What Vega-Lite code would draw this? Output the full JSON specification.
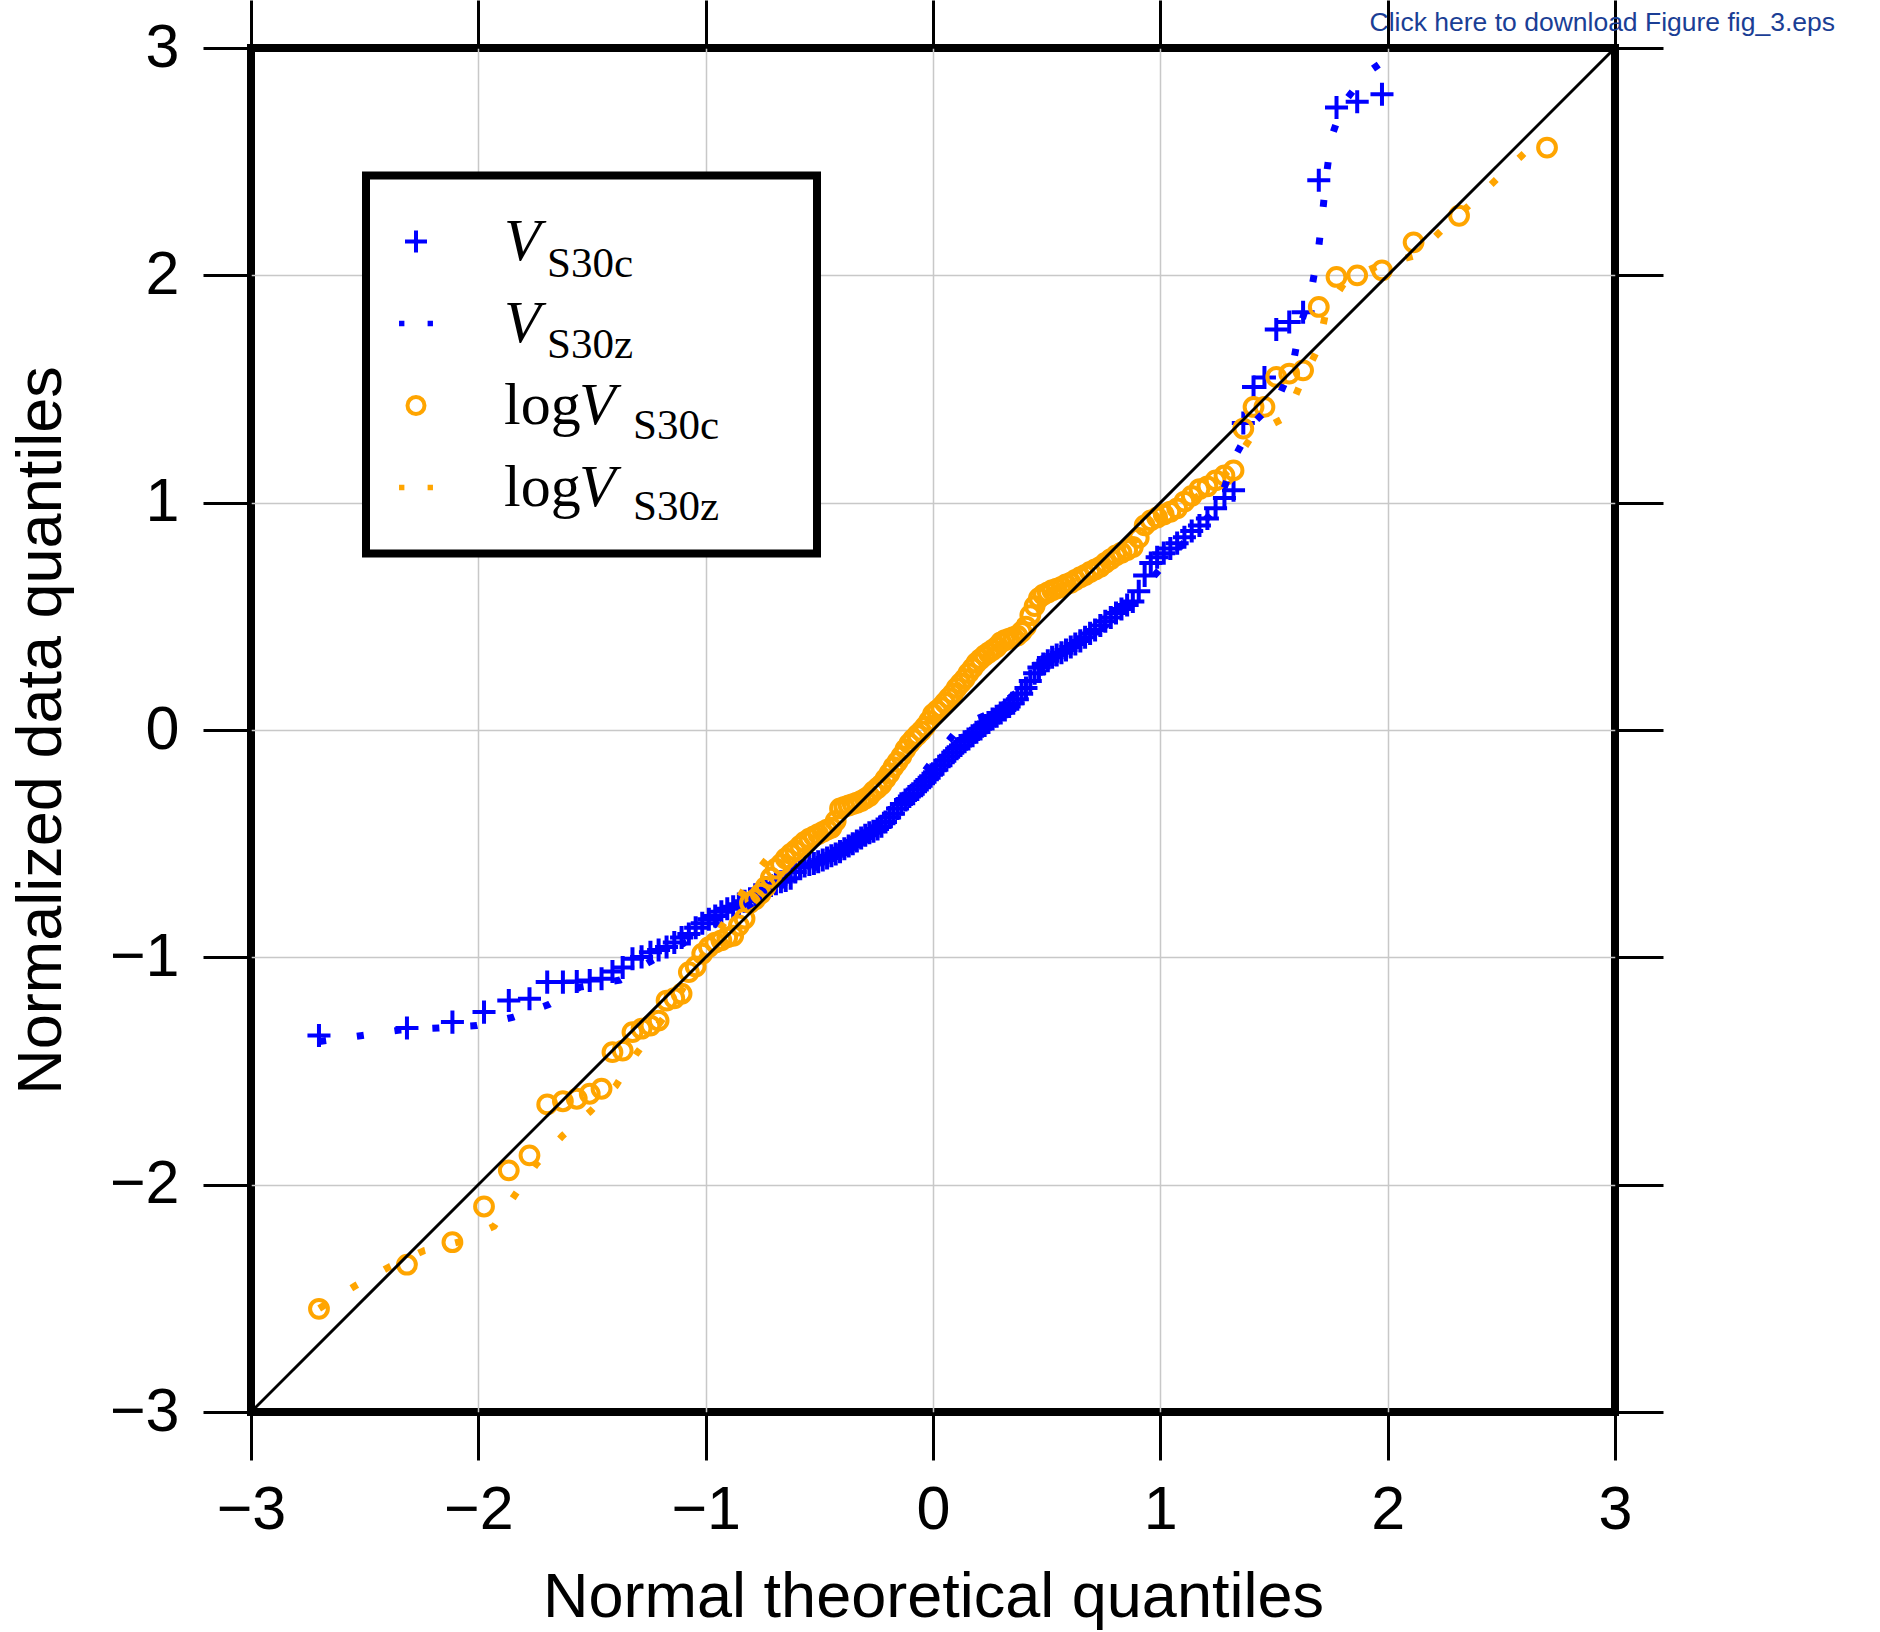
{
 "$schema": "https://vega.github.io/schema/vega-lite/v6.json",
 "width": 1364,
 "height": 1364,
 "autosize": {"type": "none"},
 "padding": {"left": 251, "top": 48, "right": 265, "bottom": 220},
 "background": "white",
 "title": {"text": "Click here to download Figure fig_3.eps", "orient": "top", "anchor": "end", "frame": "group", "font": "Liberation Sans", "fontSize": 26.5, "fontWeight": "normal", "color": "#1a3e95", "offset": 0, "dx": 220, "dy": 59, "baseline": "alphabetic"},
 "config": {
  "view": {"stroke": "black", "strokeWidth": 8},
  "legend": {"strokeWidth": 8},
  "axis": {"domain": false, "tickColor": "black", "tickWidth": 3, "tickSize": 48, "labelFont": "Liberation Sans", "labelFontSize": 61, "labelColor": "black", "titleFont": "Liberation Sans", "titleFontSize": 63, "titleFontWeight": "normal", "titleColor": "black", "gridWidth": 1.5, "gridOpacity": 1, "labelFlush": false, "labelOverlap": false, "labelBound": false}
 },
 "datasets": {
  "pts": [
   {"series":"VS30c","x":-2.701,"y":-1.344},{"series":"VS30c","x":-2.314,"y":-1.311},{"series":"VS30c","x":-2.114,"y":-1.285},{"series":"VS30c","x":-1.975,"y":-1.241},{"series":"VS30c","x":-1.866,"y":-1.19},{"series":"VS30c","x":-1.775,"y":-1.182},{"series":"VS30c","x":-1.697,"y":-1.109},{"series":"VS30c","x":-1.628,"y":-1.109},{"series":"VS30c","x":-1.567,"y":-1.106},{"series":"VS30c","x":-1.51,"y":-1.102},{"series":"VS30c","x":-1.458,"y":-1.094},{"series":"VS30c","x":-1.41,"y":-1.062},{"series":"VS30c","x":-1.365,"y":-1.045},{"series":"VS30c","x":-1.322,"y":-1.006},{"series":"VS30c","x":-1.282,"y":-0.998},{"series":"VS30c","x":-1.243,"y":-0.978},{"series":"VS30c","x":-1.207,"y":-0.968},{"series":"VS30c","x":-1.172,"y":-0.955},{"series":"VS30c","x":-1.138,"y":-0.935},{"series":"VS30c","x":-1.106,"y":-0.913},{"series":"VS30c","x":-1.074,"y":-0.897},{"series":"VS30c","x":-1.044,"y":-0.87},{"series":"VS30c","x":-1.015,"y":-0.85},{"series":"VS30c","x":-0.986,"y":-0.832},{"series":"VS30c","x":-0.958,"y":-0.818},{"series":"VS30c","x":-0.931,"y":-0.8},{"series":"VS30c","x":-0.905,"y":-0.786},{"series":"VS30c","x":-0.879,"y":-0.778},{"series":"VS30c","x":-0.854,"y":-0.766},{"series":"VS30c","x":-0.829,"y":-0.753},{"series":"VS30c","x":-0.805,"y":-0.742},{"series":"VS30c","x":-0.782,"y":-0.725},{"series":"VS30c","x":-0.758,"y":-0.708},{"series":"VS30c","x":-0.736,"y":-0.694},{"series":"VS30c","x":-0.713,"y":-0.684},{"series":"VS30c","x":-0.691,"y":-0.676},{"series":"VS30c","x":-0.669,"y":-0.668},{"series":"VS30c","x":-0.648,"y":-0.662},{"series":"VS30c","x":-0.626,"y":-0.652},{"series":"VS30c","x":-0.606,"y":-0.625},{"series":"VS30c","x":-0.585,"y":-0.605},{"series":"VS30c","x":-0.565,"y":-0.598},{"series":"VS30c","x":-0.544,"y":-0.592},{"series":"VS30c","x":-0.524,"y":-0.587},{"series":"VS30c","x":-0.505,"y":-0.58},{"series":"VS30c","x":-0.485,"y":-0.572},{"series":"VS30c","x":-0.466,"y":-0.563},{"series":"VS30c","x":-0.447,"y":-0.553},{"series":"VS30c","x":-0.428,"y":-0.545},{"series":"VS30c","x":-0.409,"y":-0.535},{"series":"VS30c","x":-0.39,"y":-0.522},{"series":"VS30c","x":-0.371,"y":-0.51},{"series":"VS30c","x":-0.353,"y":-0.5},{"series":"VS30c","x":-0.335,"y":-0.488},{"series":"VS30c","x":-0.316,"y":-0.475},{"series":"VS30c","x":-0.298,"y":-0.463},{"series":"VS30c","x":-0.28,"y":-0.452},{"series":"VS30c","x":-0.262,"y":-0.445},{"series":"VS30c","x":-0.244,"y":-0.435},{"series":"VS30c","x":-0.227,"y":-0.423},{"series":"VS30c","x":-0.209,"y":-0.405},{"series":"VS30c","x":-0.191,"y":-0.385},{"series":"VS30c","x":-0.174,"y":-0.368},{"series":"VS30c","x":-0.156,"y":-0.345},{"series":"VS30c","x":-0.139,"y":-0.325},{"series":"VS30c","x":-0.121,"y":-0.308},{"series":"VS30c","x":-0.104,"y":-0.293},{"series":"VS30c","x":-0.087,"y":-0.28},{"series":"VS30c","x":-0.069,"y":-0.262},{"series":"VS30c","x":-0.052,"y":-0.245},{"series":"VS30c","x":-0.035,"y":-0.228},{"series":"VS30c","x":-0.017,"y":-0.21},{"series":"VS30c","x":0,"y":-0.192},
   {"series":"VS30c","x":0.017,"y":-0.175},{"series":"VS30c","x":0.035,"y":-0.155},{"series":"VS30c","x":0.052,"y":-0.135},{"series":"VS30c","x":0.069,"y":-0.118},{"series":"VS30c","x":0.087,"y":-0.1},{"series":"VS30c","x":0.104,"y":-0.082},{"series":"VS30c","x":0.121,"y":-0.068},{"series":"VS30c","x":0.139,"y":-0.052},{"series":"VS30c","x":0.156,"y":-0.04},{"series":"VS30c","x":0.174,"y":-0.025},{"series":"VS30c","x":0.191,"y":-0.01},{"series":"VS30c","x":0.209,"y":0.005},{"series":"VS30c","x":0.227,"y":0.02},{"series":"VS30c","x":0.244,"y":0.033},{"series":"VS30c","x":0.262,"y":0.048},{"series":"VS30c","x":0.28,"y":0.06},{"series":"VS30c","x":0.298,"y":0.075},{"series":"VS30c","x":0.316,"y":0.088},{"series":"VS30c","x":0.335,"y":0.103},{"series":"VS30c","x":0.353,"y":0.118},{"series":"VS30c","x":0.371,"y":0.135},{"series":"VS30c","x":0.39,"y":0.16},{"series":"VS30c","x":0.409,"y":0.185},{"series":"VS30c","x":0.428,"y":0.215},{"series":"VS30c","x":0.447,"y":0.25},{"series":"VS30c","x":0.466,"y":0.275},{"series":"VS30c","x":0.485,"y":0.29},{"series":"VS30c","x":0.505,"y":0.305},{"series":"VS30c","x":0.524,"y":0.32},{"series":"VS30c","x":0.544,"y":0.33},{"series":"VS30c","x":0.565,"y":0.34},{"series":"VS30c","x":0.585,"y":0.352},{"series":"VS30c","x":0.606,"y":0.365},{"series":"VS30c","x":0.626,"y":0.378},{"series":"VS30c","x":0.648,"y":0.392},{"series":"VS30c","x":0.669,"y":0.408},{"series":"VS30c","x":0.691,"y":0.425},{"series":"VS30c","x":0.713,"y":0.44},{"series":"VS30c","x":0.736,"y":0.46},{"series":"VS30c","x":0.758,"y":0.478},{"series":"VS30c","x":0.782,"y":0.495},{"series":"VS30c","x":0.805,"y":0.515},{"series":"VS30c","x":0.829,"y":0.532},{"series":"VS30c","x":0.854,"y":0.55},{"series":"VS30c","x":0.879,"y":0.565},{"series":"VS30c","x":0.905,"y":0.61},{"series":"VS30c","x":0.931,"y":0.68},{"series":"VS30c","x":0.958,"y":0.735},{"series":"VS30c","x":0.986,"y":0.76},{"series":"VS30c","x":1.015,"y":0.778},{"series":"VS30c","x":1.044,"y":0.798},{"series":"VS30c","x":1.074,"y":0.822},{"series":"VS30c","x":1.106,"y":0.848},{"series":"VS30c","x":1.138,"y":0.875},{"series":"VS30c","x":1.172,"y":0.9},{"series":"VS30c","x":1.207,"y":0.93},{"series":"VS30c","x":1.243,"y":0.975},{"series":"VS30c","x":1.282,"y":1.02},{"series":"VS30c","x":1.322,"y":1.055},{"series":"VS30c","x":1.365,"y":1.35},{"series":"VS30c","x":1.41,"y":1.509},{"series":"VS30c","x":1.458,"y":1.551},{"series":"VS30c","x":1.51,"y":1.762},{"series":"VS30c","x":1.567,"y":1.795},{"series":"VS30c","x":1.628,"y":1.838},{"series":"VS30c","x":1.697,"y":2.418},{"series":"VS30c","x":1.775,"y":2.738},{"series":"VS30c","x":1.866,"y":2.764},{"series":"VS30c","x":1.975,"y":2.797},
   {"series":"logVS30c","x":-2.701,"y":-2.546},{"series":"logVS30c","x":-2.314,"y":-2.352},{"series":"logVS30c","x":-2.114,"y":-2.253},{"series":"logVS30c","x":-1.975,"y":-2.096},{"series":"logVS30c","x":-1.866,"y":-1.937},{"series":"logVS30c","x":-1.775,"y":-1.871},{"series":"logVS30c","x":-1.697,"y":-1.647},{"series":"logVS30c","x":-1.628,"y":-1.633},{"series":"logVS30c","x":-1.567,"y":-1.622},{"series":"logVS30c","x":-1.51,"y":-1.6},{"series":"logVS30c","x":-1.458,"y":-1.578},{"series":"logVS30c","x":-1.41,"y":-1.417},{"series":"logVS30c","x":-1.365,"y":-1.41},{"series":"logVS30c","x":-1.322,"y":-1.329},{"series":"logVS30c","x":-1.282,"y":-1.314},{"series":"logVS30c","x":-1.243,"y":-1.3},{"series":"logVS30c","x":-1.207,"y":-1.278},{"series":"logVS30c","x":-1.172,"y":-1.19},{"series":"logVS30c","x":-1.138,"y":-1.18},{"series":"logVS30c","x":-1.106,"y":-1.16},{"series":"logVS30c","x":-1.074,"y":-1.065},{"series":"logVS30c","x":-1.044,"y":-1.04},{"series":"logVS30c","x":-1.015,"y":-0.984},{"series":"logVS30c","x":-0.986,"y":-0.955},{"series":"logVS30c","x":-0.958,"y":-0.935},{"series":"logVS30c","x":-0.931,"y":-0.925},{"series":"logVS30c","x":-0.905,"y":-0.912},{"series":"logVS30c","x":-0.879,"y":-0.905},{"series":"logVS30c","x":-0.854,"y":-0.86},{"series":"logVS30c","x":-0.829,"y":-0.83},{"series":"logVS30c","x":-0.805,"y":-0.76},{"series":"logVS30c","x":-0.782,"y":-0.745},{"series":"logVS30c","x":-0.758,"y":-0.72},{"series":"logVS30c","x":-0.736,"y":-0.69},{"series":"logVS30c","x":-0.713,"y":-0.65},{"series":"logVS30c","x":-0.691,"y":-0.61},{"series":"logVS30c","x":-0.669,"y":-0.59},{"series":"logVS30c","x":-0.648,"y":-0.565},{"series":"logVS30c","x":-0.626,"y":-0.545},{"series":"logVS30c","x":-0.606,"y":-0.53},{"series":"logVS30c","x":-0.585,"y":-0.51},{"series":"logVS30c","x":-0.565,"y":-0.492},{"series":"logVS30c","x":-0.544,"y":-0.478},{"series":"logVS30c","x":-0.524,"y":-0.468},{"series":"logVS30c","x":-0.505,"y":-0.458},{"series":"logVS30c","x":-0.485,"y":-0.448},{"series":"logVS30c","x":-0.466,"y":-0.438},{"series":"logVS30c","x":-0.447,"y":-0.43},{"series":"logVS30c","x":-0.428,"y":-0.4},{"series":"logVS30c","x":-0.409,"y":-0.345},{"series":"logVS30c","x":-0.39,"y":-0.338},{"series":"logVS30c","x":-0.371,"y":-0.332},{"series":"logVS30c","x":-0.353,"y":-0.326},{"series":"logVS30c","x":-0.335,"y":-0.32},{"series":"logVS30c","x":-0.316,"y":-0.312},{"series":"logVS30c","x":-0.298,"y":-0.302},{"series":"logVS30c","x":-0.28,"y":-0.29},{"series":"logVS30c","x":-0.262,"y":-0.27},{"series":"logVS30c","x":-0.244,"y":-0.255},{"series":"logVS30c","x":-0.227,"y":-0.24},{"series":"logVS30c","x":-0.209,"y":-0.215},{"series":"logVS30c","x":-0.191,"y":-0.19},{"series":"logVS30c","x":-0.174,"y":-0.163},{"series":"logVS30c","x":-0.156,"y":-0.14},{"series":"logVS30c","x":-0.139,"y":-0.115},{"series":"logVS30c","x":-0.121,"y":-0.085},{"series":"logVS30c","x":-0.104,"y":-0.06},{"series":"logVS30c","x":-0.087,"y":-0.04},{"series":"logVS30c","x":-0.069,"y":-0.022},{"series":"logVS30c","x":-0.052,"y":-0.005},{"series":"logVS30c","x":-0.035,"y":0.015},{"series":"logVS30c","x":-0.017,"y":0.04},{"series":"logVS30c","x":0,"y":0.07},
   {"series":"logVS30c","x":0.017,"y":0.085},{"series":"logVS30c","x":0.035,"y":0.1},{"series":"logVS30c","x":0.052,"y":0.12},{"series":"logVS30c","x":0.069,"y":0.14},{"series":"logVS30c","x":0.087,"y":0.16},{"series":"logVS30c","x":0.104,"y":0.185},{"series":"logVS30c","x":0.121,"y":0.205},{"series":"logVS30c","x":0.139,"y":0.225},{"series":"logVS30c","x":0.156,"y":0.25},{"series":"logVS30c","x":0.174,"y":0.272},{"series":"logVS30c","x":0.191,"y":0.295},{"series":"logVS30c","x":0.209,"y":0.312},{"series":"logVS30c","x":0.227,"y":0.328},{"series":"logVS30c","x":0.244,"y":0.34},{"series":"logVS30c","x":0.262,"y":0.352},{"series":"logVS30c","x":0.28,"y":0.365},{"series":"logVS30c","x":0.298,"y":0.385},{"series":"logVS30c","x":0.316,"y":0.395},{"series":"logVS30c","x":0.335,"y":0.402},{"series":"logVS30c","x":0.353,"y":0.408},{"series":"logVS30c","x":0.371,"y":0.415},{"series":"logVS30c","x":0.39,"y":0.432},{"series":"logVS30c","x":0.409,"y":0.455},{"series":"logVS30c","x":0.428,"y":0.505},{"series":"logVS30c","x":0.447,"y":0.545},{"series":"logVS30c","x":0.466,"y":0.58},{"series":"logVS30c","x":0.485,"y":0.595},{"series":"logVS30c","x":0.505,"y":0.605},{"series":"logVS30c","x":0.524,"y":0.615},{"series":"logVS30c","x":0.544,"y":0.622},{"series":"logVS30c","x":0.565,"y":0.63},{"series":"logVS30c","x":0.585,"y":0.64},{"series":"logVS30c","x":0.606,"y":0.648},{"series":"logVS30c","x":0.626,"y":0.66},{"series":"logVS30c","x":0.648,"y":0.672},{"series":"logVS30c","x":0.669,"y":0.682},{"series":"logVS30c","x":0.691,"y":0.695},{"series":"logVS30c","x":0.713,"y":0.706},{"series":"logVS30c","x":0.736,"y":0.718},{"series":"logVS30c","x":0.758,"y":0.735},{"series":"logVS30c","x":0.782,"y":0.752},{"series":"logVS30c","x":0.805,"y":0.768},{"series":"logVS30c","x":0.829,"y":0.78},{"series":"logVS30c","x":0.854,"y":0.792},{"series":"logVS30c","x":0.879,"y":0.805},{"series":"logVS30c","x":0.905,"y":0.845},{"series":"logVS30c","x":0.931,"y":0.9},{"series":"logVS30c","x":0.958,"y":0.922},{"series":"logVS30c","x":0.986,"y":0.935},{"series":"logVS30c","x":1.015,"y":0.948},{"series":"logVS30c","x":1.044,"y":0.96},{"series":"logVS30c","x":1.074,"y":0.975},{"series":"logVS30c","x":1.106,"y":1.005},{"series":"logVS30c","x":1.138,"y":1.03},{"series":"logVS30c","x":1.172,"y":1.06},{"series":"logVS30c","x":1.207,"y":1.072},{"series":"logVS30c","x":1.243,"y":1.098},{"series":"logVS30c","x":1.282,"y":1.12},{"series":"logVS30c","x":1.322,"y":1.142},{"series":"logVS30c","x":1.365,"y":1.326},{"series":"logVS30c","x":1.41,"y":1.421},{"series":"logVS30c","x":1.458,"y":1.421},{"series":"logVS30c","x":1.51,"y":1.553},{"series":"logVS30c","x":1.567,"y":1.568},{"series":"logVS30c","x":1.628,"y":1.582},{"series":"logVS30c","x":1.697,"y":1.861},{"series":"logVS30c","x":1.775,"y":1.993},{"series":"logVS30c","x":1.866,"y":2.0},{"series":"logVS30c","x":1.975,"y":2.022},{"series":"logVS30c","x":2.114,"y":2.145},{"series":"logVS30c","x":2.314,"y":2.262},{"series":"logVS30c","x":2.701,"y":2.562}
  ],
  "zl": [
   {"series":"VS30z","x":-2.7,"y":-1.37},{"series":"VS30z","x":-2.51,"y":-1.344},{"series":"VS30z","x":-2.345,"y":-1.32},{"series":"VS30z","x":-2.176,"y":-1.311},{"series":"VS30z","x":-2.007,"y":-1.3},{"series":"VS30z","x":-1.846,"y":-1.263},{"series":"VS30z","x":-1.688,"y":-1.207},{"series":"VS30z","x":-1.553,"y":-1.131},{"series":"VS30z","x":-1.377,"y":-1.1},{"series":"VS30z","x":-1.248,"y":-1.021},{"series":"VS30z","x":-1.1,"y":-0.94},{"series":"VS30z","x":-0.95,"y":-0.85},{"series":"VS30z","x":-0.8,"y":-0.765},{"series":"VS30z","x":-0.65,"y":-0.675},{"series":"VS30z","x":-0.5,"y":-0.595},{"series":"VS30z","x":-0.35,"y":-0.505},{"series":"VS30z","x":-0.2,"y":-0.385},{"series":"VS30z","x":-0.08,"y":-0.24},{"series":"VS30z","x":0.015,"y":-0.112},{"series":"VS30z","x":0.118,"y":0.013},{"series":"VS30z","x":0.25,"y":0.075},{"series":"VS30z","x":0.4,"y":0.19},{"series":"VS30z","x":0.55,"y":0.32},{"series":"VS30z","x":0.7,"y":0.42},{"series":"VS30z","x":0.85,"y":0.52},{"series":"VS30z","x":0.968,"y":0.673},{"series":"VS30z","x":1.1,"y":0.82},{"series":"VS30z","x":1.25,"y":0.98},{"series":"VS30z","x":1.335,"y":1.215},{"series":"VS30z","x":1.408,"y":1.349},{"series":"VS30z","x":1.518,"y":1.459},{"series":"VS30z","x":1.584,"y":1.61},{"series":"VS30z","x":1.613,"y":1.77},{"series":"VS30z","x":1.665,"y":1.938},{"series":"VS30z","x":1.694,"y":2.1},{"series":"VS30z","x":1.713,"y":2.267},{"series":"VS30z","x":1.73,"y":2.436},{"series":"VS30z","x":1.752,"y":2.604},{"series":"VS30z","x":1.803,"y":2.755},{"series":"VS30z","x":1.909,"y":2.89},{"series":"VS30z","x":2.038,"y":2.982},{"series":"VS30z","x":2.07,"y":3.0},
   {"series":"logVS30z","x":-2.7,"y":-2.545},{"series":"logVS30z","x":-2.538,"y":-2.443},{"series":"logVS30z","x":-2.389,"y":-2.36},{"series":"logVS30z","x":-2.238,"y":-2.29},{"series":"logVS30z","x":-2.074,"y":-2.249},{"series":"logVS30z","x":-1.931,"y":-2.183},{"series":"logVS30z","x":-1.838,"y":-2.044},{"series":"logVS30z","x":-1.744,"y":-1.908},{"series":"logVS30z","x":-1.63,"y":-1.785},{"series":"logVS30z","x":-1.51,"y":-1.68},{"series":"logVS30z","x":-1.395,"y":-1.565},{"series":"logVS30z","x":-1.307,"y":-1.427},{"series":"logVS30z","x":-1.15,"y":-1.22},{"series":"logVS30z","x":-1.0,"y":-0.97},{"series":"logVS30z","x":-0.9,"y":-0.82},{"series":"logVS30z","x":-0.813,"y":-0.669},{"series":"logVS30z","x":-0.718,"y":-0.552},{"series":"logVS30z","x":-0.6,"y":-0.49},{"series":"logVS30z","x":-0.45,"y":-0.4},{"series":"logVS30z","x":-0.3,"y":-0.28},{"series":"logVS30z","x":-0.15,"y":-0.12},{"series":"logVS30z","x":0.0,"y":0.05},{"series":"logVS30z","x":0.15,"y":0.23},{"series":"logVS30z","x":0.3,"y":0.37},{"series":"logVS30z","x":0.45,"y":0.53},{"series":"logVS30z","x":0.6,"y":0.63},{"series":"logVS30z","x":0.8,"y":0.76},{"series":"logVS30z","x":1.0,"y":0.925},{"series":"logVS30z","x":1.2,"y":1.05},{"series":"logVS30z","x":1.3,"y":1.14},{"series":"logVS30z","x":1.408,"y":1.3},{"series":"logVS30z","x":1.554,"y":1.377},{"series":"logVS30z","x":1.62,"y":1.53},{"series":"logVS30z","x":1.694,"y":1.678},{"series":"logVS30z","x":1.73,"y":1.846},{"series":"logVS30z","x":1.818,"y":1.98},{"series":"logVS30z","x":1.972,"y":2.048},{"series":"logVS30z","x":2.126,"y":2.088},{"series":"logVS30z","x":2.244,"y":2.205},{"series":"logVS30z","x":2.373,"y":2.321},{"series":"logVS30z","x":2.493,"y":2.436},{"series":"logVS30z","x":2.618,"y":2.553},{"series":"logVS30z","x":2.69,"y":2.575}
  ],
  "diag": [{"x": -3, "y": -3}, {"x": 3, "y": 3}]
 },
 "resolve": {"axis": {"x": "independent", "y": "independent"}},
 "layer": [
  {
   "data": {"name": "pts"},
   "mark": {"type": "point", "filled": false, "strokeWidth": 4, "size": 1267, "opacity": 1, "clip": true},
   "encoding": {
    "x": {"field": "x", "type": "quantitative", "scale": {"domain": [-3, 3], "nice": false, "zero": false},
          "axis": {"orient": "bottom", "values": [-3, -2, -1, 0, 1, 2, 3], "grid": true, "gridColor": {"condition": {"test": "abs(datum.value) >= 3", "value": "transparent"}, "value": "#c8c8c8"}, "title": "Normal theoretical quantiles", "labelPadding": 20, "titlePadding": 26}},
    "y": {"field": "y", "type": "quantitative", "scale": {"domain": [-3, 3], "nice": false, "zero": false},
          "axis": {"orient": "left", "values": [-3, -2, -1, 0, 1, 2, 3], "grid": true, "gridColor": {"condition": {"test": "abs(datum.value) >= 3", "value": "transparent"}, "value": "#c8c8c8"}, "title": "Normalized data quantiles", "labelPadding": 24, "titlePadding": 36}},
    "color": {"field": "series", "type": "nominal",
              "scale": {"domain": ["VS30c", "VS30z", "logVS30c", "logVS30z"], "range": ["#0000ff", "#0000ff", "#ffa500", "#ffa500"]},
              "legend": {"orient": "none", "legendX": 115, "legendY": 127.5, "title": null, "fillColor": "white", "strokeColor": "black", "padding": 36, "symbolSize": 1156, "symbolStrokeWidth": 4, "symbolOffset": -16, "symbolFillColor": "transparent", "labelFont": "Liberation Serif", "labelFontSize": 60, "labelFontStyle": "italic", "labelColor": "black", "labelOffset": 58, "labelLimit": 2000, "rowPadding": 22, "zindex": 1,
                         "labelExpr": "(datum.value == 'VS30c' || datum.value == 'VS30z') ? 'V' : '\u200b\u00a0\u00a0\u00a0\u00a0\u00a0V\u00a0\u00a0\u00a0\u00a0\u00a0\u00a0\u00a0\u00a0\u00a0\u00a0\u00a0\u200b'",
                         "encode": {"legend": {"update": {"strokeWidth": {"value": 8}}}, "symbols": {"update": {"fill": {"value": "transparent"}}}}}},
    "shape": {"field": "series", "type": "nominal",
              "scale": {"domain": ["VS30c", "VS30z", "logVS30c", "logVS30z"], "range": ["M-0.647,0H0.647M0,-0.647V0.647", "M-0.88,-0.04H-0.8V0.04H-0.88Z M0.8,-0.04H0.88V0.04H0.8Z", "M0.5,0A0.5,0.5 0 1,1 -0.5,0A0.5,0.5 0 1,1 0.5,0Z", "M-0.88,-0.04H-0.8V0.04H-0.88Z M0.8,-0.04H0.88V0.04H0.8Z"]},
              "legend": {"orient": "none", "legendX": 115, "legendY": 127.5, "title": null, "fillColor": "white", "strokeColor": "black", "padding": 36, "symbolSize": 1156, "symbolStrokeWidth": 4, "symbolOffset": -16, "symbolFillColor": "transparent", "labelFont": "Liberation Serif", "labelFontSize": 60, "labelFontStyle": "italic", "labelColor": "black", "labelOffset": 58, "labelLimit": 2000, "rowPadding": 22, "zindex": 1,
                         "labelExpr": "(datum.value == 'VS30c' || datum.value == 'VS30z') ? 'V' : '\u200b\u00a0\u00a0\u00a0\u00a0\u00a0V\u00a0\u00a0\u00a0\u00a0\u00a0\u00a0\u00a0\u00a0\u00a0\u00a0\u00a0\u200b'",
                         "encode": {"legend": {"update": {"strokeWidth": {"value": 8}}}, "symbols": {"update": {"fill": {"value": "transparent"}}}}}},
    "fill": {"field": "series", "type": "nominal",
             "scale": {"domain": ["VS30z", "VS30c", "logVS30c", "logVS30z"], "range": ["transparent", "transparent", "transparent", "transparent"]},
             "legend": {"orient": "none", "legendX": 115, "legendY": 291.5, "values": ["logVS30c", "logVS30z"], "title": null, "fillColor": "transparent", "strokeColor": "transparent", "padding": 36, "symbolSize": 1156, "symbolStrokeWidth": 4, "symbolOffset": -16, "symbolOpacity": 0, "labelFont": "Liberation Serif", "labelFontSize": 60, "labelFontStyle": "normal", "labelColor": "black", "labelOffset": 58, "labelLimit": 2000, "rowPadding": 22, "zindex": 3,
                        "labelExpr": "'log'"}}
   }
  },
  {
   "data": {"name": "zl"},
   "transform": [{"filter": "datum.series == 'VS30z'"}],
   "mark": {"type": "line", "color": "#0000ff", "strokeWidth": 7, "strokeCap": "butt", "clip": true},
   "encoding": {
    "x": {"field": "x", "type": "quantitative", "axis": null},
    "y": {"field": "y", "type": "quantitative", "axis": null},
    "strokeDash": {"field": "series", "type": "nominal",
                   "scale": {"domain": ["VS30c", "VS30z", "logVS30c", "logVS30z"], "range": [[1, 0], [7, 31], [1, 0], [7, 31]]},
                   "legend": {"orient": "top-left", "offset": 194, "title": null, "padding": 0, "strokeColor": "transparent", "symbolSize": 400, "symbolOpacity": 0, "labelFont": "Liberation Serif", "labelFontSize": 43, "labelColor": "black", "labelOffset": 59, "labelLimit": 2000, "rowPadding": 37, "zindex": 2,
                              "labelExpr": "datum.value == 'VS30c' ? 'S30c' : datum.value == 'VS30z' ? 'S30z' : datum.value == 'logVS30c' ? '\u200b\u00a0\u00a0\u00a0\u00a0\u00a0\u00a0\u00a0\u00a0S30c' : '\u200b\u00a0\u00a0\u00a0\u00a0\u00a0\u00a0\u00a0\u00a0S30z'"}}
   }
  },
  {
   "data": {"name": "zl"},
   "transform": [{"filter": "datum.series == 'logVS30z'"}],
   "mark": {"type": "line", "color": "#ffa500", "strokeWidth": 7, "strokeCap": "butt", "clip": true},
   "encoding": {
    "x": {"field": "x", "type": "quantitative", "axis": null},
    "y": {"field": "y", "type": "quantitative", "axis": null},
    "strokeDash": {"field": "series", "type": "nominal",
                   "scale": {"domain": ["VS30c", "VS30z", "logVS30c", "logVS30z"], "range": [[1, 0], [7, 31], [1, 0], [7, 31]]},
                   "legend": {"orient": "top-left", "offset": 194, "title": null, "padding": 0, "strokeColor": "transparent", "symbolSize": 400, "symbolOpacity": 0, "labelFont": "Liberation Serif", "labelFontSize": 43, "labelColor": "black", "labelOffset": 59, "labelLimit": 2000, "rowPadding": 37, "zindex": 2,
                              "labelExpr": "datum.value == 'VS30c' ? 'S30c' : datum.value == 'VS30z' ? 'S30z' : datum.value == 'logVS30c' ? '\u200b\u00a0\u00a0\u00a0\u00a0\u00a0\u00a0\u00a0\u00a0S30c' : '\u200b\u00a0\u00a0\u00a0\u00a0\u00a0\u00a0\u00a0\u00a0S30z'"}}
   }
  },
  {
   "data": {"name": "diag"},
   "mark": {"type": "line", "color": "black", "strokeWidth": 3, "clip": true},
   "encoding": {
    "x": {"field": "x", "type": "quantitative", "axis": {"orient": "top", "values": [-3, -2, -1, 0, 1, 2, 3], "labels": false, "grid": false, "title": null}},
    "y": {"field": "y", "type": "quantitative", "axis": {"orient": "right", "values": [-3, -2, -1, 0, 1, 2, 3], "labels": false, "grid": false, "title": null}}
   }
  }
 ]
}
